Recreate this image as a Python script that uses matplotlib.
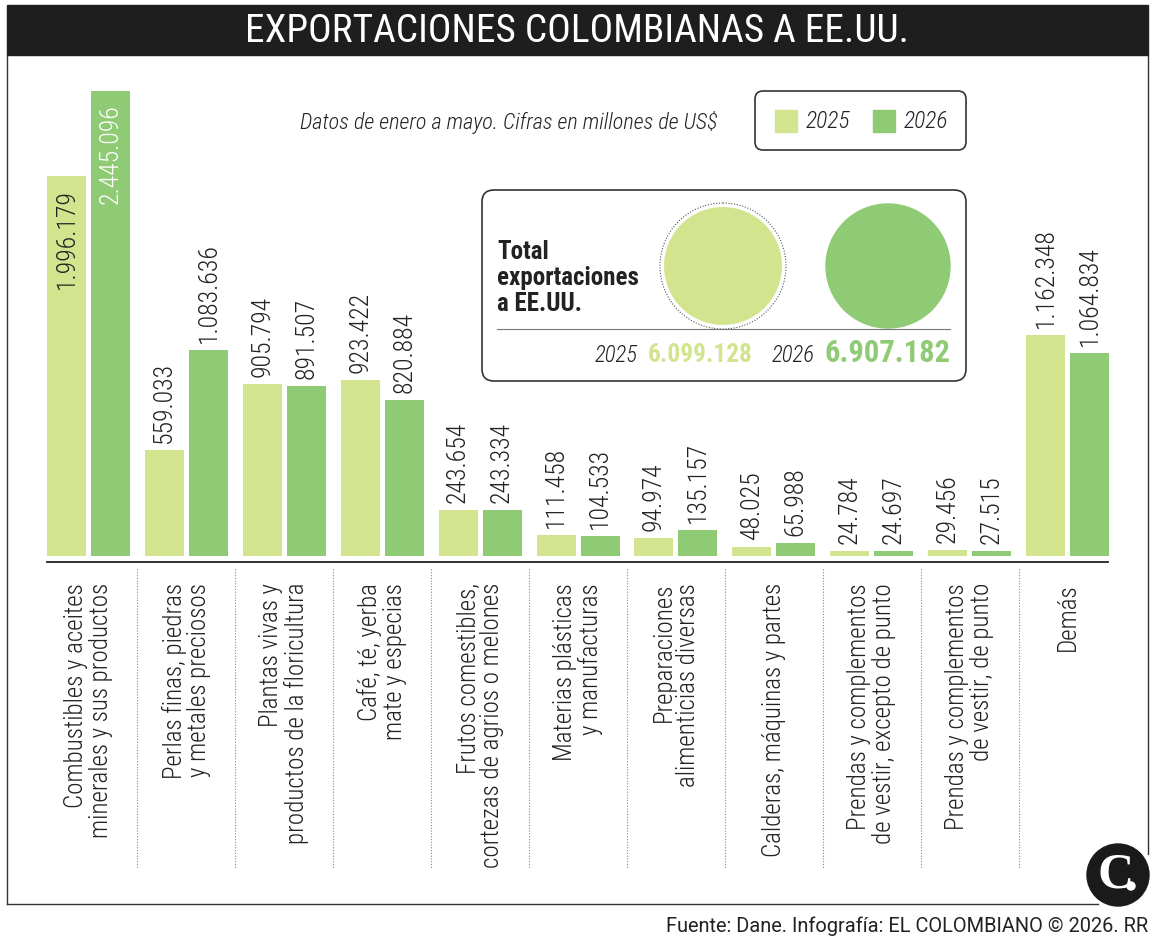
import matplotlib
matplotlib.use('Agg')
from matplotlib import pyplot as plt
from matplotlib import transforms
from matplotlib.patches import Rectangle, FancyBboxPatch, Circle

plt.rcParams['font.family'] = ['Roboto Condensed', 'Roboto', 'DejaVu Sans']

# data (millones de US$, enero a mayo)
categories = [
    'Combustibles y aceites\nminerales y sus productos',
    'Perlas finas, piedras\ny metales preciosos',
    'Plantas vivas y\nproductos de la floricultura',
    'Café, té, yerba\nmate y especias',
    'Frutos comestibles,\ncortezas de agrios o melones',
    'Materias plásticas\ny manufacturas',
    'Preparaciones\nalimenticias diversas',
    'Calderas, máquinas y partes',
    'Prendas y complementos\nde vestir, excepto de punto',
    'Prendas y complementos\nde vestir, de punto',
    'Demás',
]
values_2025 = [1996179, 559033, 905794, 923422, 243654, 111458, 94974, 48025, 24784, 29456, 1162348]
values_2026 = [2445096, 1083636, 891507, 820884, 243334, 104533, 135157, 65988, 24697, 27515, 1064834]
years = ['2025', '2026']
totals = [6099128, 6907182]

light = '#d3e48e'
dark = '#8fca74'
ink = '#222222'

W, H = 1155, 945
fig = plt.figure(figsize=(W / 100, H / 100), dpi=100)

# overlay in pixel units for the frame and boxes
ov = fig.add_axes([0, 0, 1, 1], zorder=0)
ov.set_xlim(0, W)
ov.set_ylim(H, 0)
ov.axis('off')

# bar axes: group i centred at 88.5 + 97.9 * i px, baseline at 557 px
step = 97.9
left_px, right_px = 40, 1115
top_px, base_px = 57, 557
scale = 465 / max(values_2026)
ax = fig.add_axes([left_px / W, 1 - base_px / H, (right_px - left_px) / W, (base_px - top_px) / H], zorder=2)
ax.set_xlim((left_px - 88.5) / step, (right_px - 88.5) / step)
ax.set_ylim(0, (base_px - top_px) / scale)
ax.axis('off')

x = list(range(len(categories)))
off = 22 / step
bw = 39 / step
ax.bar([i - off for i in x], values_2025, bw, color=light)
ax.bar([i + off for i in x], values_2026, bw, color=dark)


def fmt(v):
    return f'{v:,}'.replace(',', '.')


for i in x:
    for v, dx in ((values_2025[i], -off), (values_2026[i], off)):
        if i == 0:
            col = 'white' if dx > 0 else ink
            ax.annotate(fmt(v), (i + dx, v), xytext=(0, -12), textcoords='offset pixels',
                        rotation=90, ha='center', va='top', fontsize=18.5,
                        fontweight='light', color=col)
        else:
            ax.annotate(fmt(v), (i + dx, v), xytext=(0, 8), textcoords='offset pixels',
                        rotation=90, ha='center', va='bottom', fontsize=18.5,
                        fontweight='light', color=ink)

# category labels and dotted separators
bt = transforms.blended_transform_factory(ax.transData, ov.transData)
for i, c in enumerate(categories):
    ov.text(i, 583, c, transform=bt, rotation=90, ha='center', va='top',
            multialignment='right', fontsize=18, fontweight='light', color=ink,
            linespacing=1.03)
    if i < len(categories) - 1:
        ov.plot([i + 0.5, i + 0.5], [570, 870], transform=bt, color='#888888',
                lw=0.8, ls=(0, (1, 1.5)))

ov.plot([47, 1108], [563, 563], color=ink, lw=1.3)

# title bar and frame
ov.add_patch(Rectangle((7, 6), 1141, 50, color='#1e1e1e'))
ov.text(577, 32, 'EXPORTACIONES COLOMBIANAS A EE.UU.', color='white', fontsize=28.4,
        ha='center', va='center')
ov.plot([7, 7], [56, 905], color='#333333', lw=1)
ov.plot([7, 1098], [905, 905], color='#333333', lw=1)
ov.plot([1148, 1148], [56, 855], color='#333333', lw=1)

# subtitle and legend
ov.text(718, 122, 'Datos de enero a mayo. Cifras en millones de US$', style='italic',
        fontsize=16, fontweight='light', color=ink, ha='right', va='center')
ov.add_patch(FancyBboxPatch((755, 92), 211, 59, boxstyle='round,pad=0,rounding_size=8',
                            fc='white', ec='#333333', lw=1.2))
for sx, col, yr in ((775, light, years[0]), (873, dark, years[1])):
    ov.add_patch(Rectangle((sx, 111), 22, 22, color=col))
    ov.text(sx + 31, 122, yr, style='italic', fontsize=17, fontweight='light',
            color=ink, va='center')

# total box
ov.add_patch(FancyBboxPatch((482, 191), 484, 191, boxstyle='round,pad=0,rounding_size=12',
                            fc='white', ec='#333333', lw=1.2))
ov.text(497, 278, 'Total\nexportaciones\na EE.UU.', fontsize=18, fontweight='bold',
        color=ink, va='center', ha='left', linespacing=1.12)
r_big = 62
r_small = r_big * (totals[0] / totals[1]) ** 0.5
ov.add_patch(Circle((723, 267), r_small, color=light))
ov.add_patch(Circle((723, 267), r_big + 1, fill=False, ec='#555555', lw=0.8, ls=(0, (1, 1.5))))
ov.add_patch(Circle((888, 267), r_big, color=dark))
ov.plot([497, 950], [330, 330], color='#777777', lw=0.8)
ov.text(638, 355, years[0], style='italic', fontsize=16.5, fontweight='light', color=ink,
        ha='right', va='center')
ov.text(648, 355, fmt(totals[0]), fontsize=18.3, fontweight='bold', color=light,
        ha='left', va='center')
ov.text(815, 355, years[1], style='italic', fontsize=16.5, fontweight='light', color=ink,
        ha='right', va='center')
ov.text(825, 353, fmt(totals[1]), fontsize=22, fontweight='bold', color=dark,
        ha='left', va='center')

# footer and logo
ov.text(1148, 926, 'Fuente: Dane. Infografía: EL COLOMBIANO © 2026. RR', family='Roboto',
        fontsize=14.4, color=ink, ha='right', va='center')
ov.add_patch(Circle((1118, 876), 31, color='#1a1a1a'))
ov.text(1116, 876, 'C', family='Liberation Serif', fontweight='bold', fontsize=36,
        color='white', ha='center', va='center')
ov.add_patch(Circle((1131, 887), 4, color='white'))

fig.savefig('out.png', dpi=100)
